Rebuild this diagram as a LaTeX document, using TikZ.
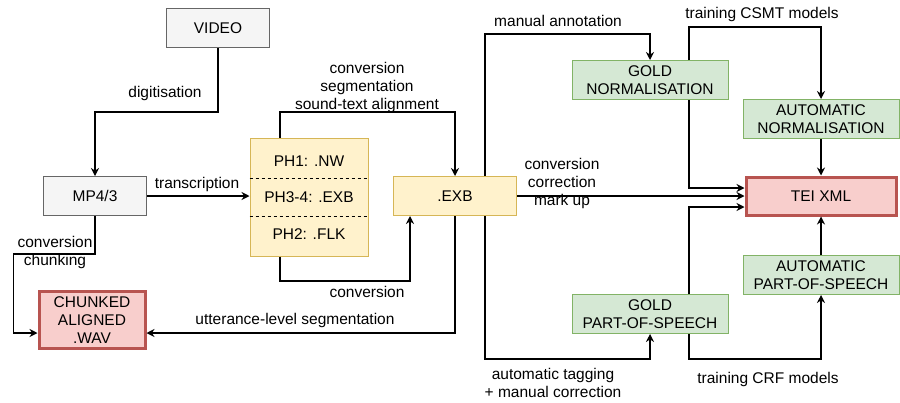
\documentclass[tikz,border=0pt]{standalone}
\usepackage{fontspec}
\setmainfont{Liberation Sans}
\usetikzlibrary{arrows.meta}
\definecolor{grayfill}{HTML}{F5F5F5}
\definecolor{graydraw}{HTML}{666666}
\definecolor{yellowfill}{HTML}{FFF2CC}
\definecolor{yellowdraw}{HTML}{D6B656}
\definecolor{greenfill}{HTML}{D5E8D4}
\definecolor{greendraw}{HTML}{82B366}
\definecolor{redfill}{HTML}{F8CECC}
\definecolor{reddraw}{HTML}{B85450}
\begin{document}
\begin{tikzpicture}[x=1pt, y=-1pt,
    font=\fontsize{15.5}{18}\selectfont,
    box/.style={draw, line width=1pt, align=center, inner sep=0pt},
    graybox/.style={box, fill=grayfill, draw=graydraw, minimum width=103pt, minimum height=39pt},
    yellowbox/.style={box, fill=yellowfill, draw=yellowdraw},
    greenbox/.style={box, fill=greenfill, draw=greendraw, minimum width=156pt, minimum height=39pt},
    redbox/.style={box, fill=redfill, draw=reddraw, line width=3pt},
    arr/.style={-{Stealth[length=8pt, width=8pt]}, line width=1.2pt},
    lbl/.style={align=center, inner sep=0pt}]
    \useasboundingbox (0,0) rectangle (900,402);

    % Boxes
    \node[graybox] (video) at (218,28) {VIDEO};
    \node[graybox] (mp4) at (95,196) {MP4/3};
    \node[redbox, minimum width=106pt, minimum height=57pt] (chunked) at (92,320) {CHUNKED\\ALIGNED\\.WAV};
    \node[yellowbox, minimum width=118pt, minimum height=118pt] (ph) at (309,197) {};
    \node (ph1) at (309,161) {PH1: .NW};
    \node (ph34) at (309,197) {PH3-4: .EXB};
    \node (ph2) at (309,234) {PH2: .FLK};
    \draw[dashed, line width=0.8pt] (ph.west |- 0,178) -- (ph.east |- 0,178);
    \draw[dashed, line width=0.8pt] (ph.west |- 0,216) -- (ph.east |- 0,216);
    \node[yellowbox, minimum width=123pt, minimum height=39pt] (exb) at (455,196) {.EXB};
    \node[greenbox] (gnorm) at (650,80) {GOLD\\NORMALISATION};
    \node[greenbox] (anorm) at (821,119) {AUTOMATIC\\NORMALISATION};
    \node[redbox, minimum width=150pt, minimum height=38pt] (tei) at (821,196) {TEI XML};
    \node[greenbox] (apos) at (821,275) {AUTOMATIC\\PART-OF-SPEECH};
    \node[greenbox] (gpos) at (650,314) {GOLD\\PART-OF-SPEECH};

    % Left part
    \draw[arr] (video.south) |- (mp4.north |- 0,112) -- (mp4.north);
    \node[lbl] (digit) at (165,93) {digitisation};
    \draw[arr] (mp4.east) -- (ph.west |- mp4.east);
    \node[lbl] (transcr) at (197,184) {transcription};
    \draw[arr] (mp4.south) |- ([xshift=-24pt]chunked.west |- 0,254) |- ([yshift=-13pt]chunked.west);
    \node[lbl] (chunking) at (55,252) {conversion\\chunking};
    \draw[arr] ([xshift=-29pt]ph.north) |- (exb.north |- 0,112) -- (exb.north);
    \node[lbl] (align) at (367,87) {conversion\\segmentation\\sound-text alignment};
    \draw[arr] ([xshift=-29pt]ph.south) |- ([xshift=-45pt]exb.south |- 0,281) -- ([xshift=-45pt]exb.south);
    \node[lbl] (conv) at (367,292) {conversion};
    \draw[arr] (exb.south) |- ([yshift=-13pt]chunked.east);
    \node[lbl] (utter) at (295,320) {utterance-level segmentation};

    % Right part
    \draw[arr] ([xshift=30pt]exb.north) |- ([yshift=26pt]gnorm.north) -- (gnorm.north);
    \node[lbl] (manual) at (558,21) {manual annotation};
    \draw[arr] ([xshift=39pt]gnorm.north) |- ([yshift=72pt]anorm.north) -- (anorm.north);
    \node[lbl] (csmt) at (762,14) {training CSMT models};
    \draw[arr] ([xshift=39pt]gnorm.south) |- ([yshift=8pt]tei.west);
    \draw[arr] (exb.east) -- (tei.west);
    \node[lbl] (markup) at (562,183) {conversion\\correction\\mark up};
    \draw[arr] ([xshift=39pt]gpos.north) |- ([yshift=-11pt]tei.west);
    \draw[arr] (anorm.south) -- (tei.north);
    \draw[arr] (apos.north) -- (tei.south);
    \draw[arr] ([xshift=30pt]exb.south) |- ([yshift=-25pt]gpos.south) -- (gpos.south);
    \node[lbl] (tagging) at (553,383) {automatic tagging\\+ manual correction};
    \draw[arr] ([xshift=39pt]gpos.south) |- ([yshift=-64pt]apos.south) -- (apos.south);
    \node[lbl] (crf) at (768,379) {training CRF models};
\end{tikzpicture}
\end{document}
